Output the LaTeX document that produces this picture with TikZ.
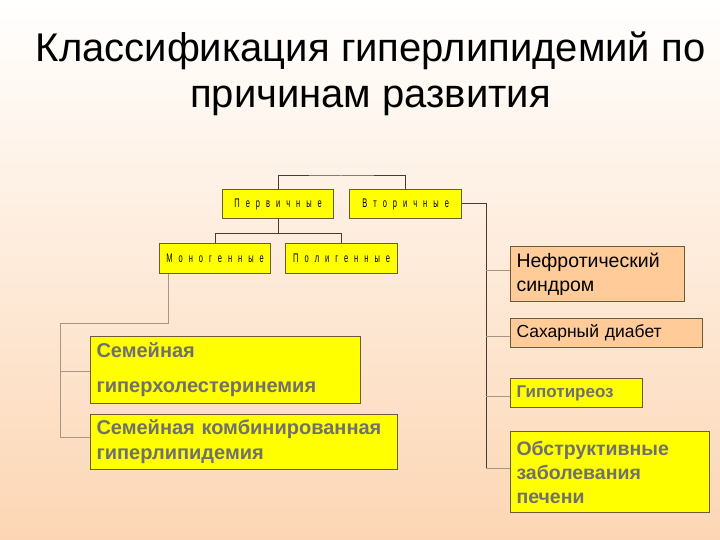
\documentclass[tikz,border=0pt]{standalone}
\usepackage{fontspec}
\setmainfont{Liberation Sans}
\newfontfamily\condfont[FakeStretch=0.6]{Liberation Sans}
\newcommand{\ls}{\hspace{6pt}}
\definecolor{bgtop}{RGB}{255,255,255}
\definecolor{bgbot}{RGB}{252,214,180}
\definecolor{ylw}{RGB}{255,255,0}
\definecolor{org}{RGB}{255,204,153}
\definecolor{bord}{RGB}{105,92,60}
\definecolor{txtgray}{RGB}{112,112,112}
\definecolor{lndark}{RGB}{70,60,50}
\definecolor{lnlight}{RGB}{165,150,135}
\tikzset{
  box/.style={draw=bord, line width=1pt, inner sep=0pt, anchor=north west},
  smallbox/.style={box, fill=ylw, line width=1.3pt, font=\condfont\fontsize{12.5}{14}\selectfont},
  leftbox/.style={box, align=left, inner xsep=6pt},
  darkln/.style={draw=lndark, line width=1pt},
  lightln/.style={draw=lnlight, line width=1pt},
}
\begin{document}
\begin{tikzpicture}[x=1pt,y=-1pt]
\shade[top color=bgtop, bottom color=bgbot] (0,0) rectangle (720,540);
\useasboundingbox (0,0) rectangle (720,540);
% title
\node[anchor=base, font=\fontsize{40}{48}\selectfont, inner sep=0pt] (t1) at (370.5,62) {Классификация гиперлипидемий по};
\node[anchor=base, font=\fontsize{40}{48}\selectfont, inner sep=0pt] (t2) at (370.5,108) {причинам развития};
% small boxes
\node[smallbox, minimum width=111pt, minimum height=29pt] (perv) at (222,189) {П\ls е\ls р\ls в\ls и\ls ч\ls н\ls ы\ls е};
\node[smallbox, minimum width=112pt, minimum height=29pt] (vtor) at (349,189) {В\ls т\ls о\ls р\ls и\ls ч\ls н\ls ы\ls е};
\node[smallbox, minimum width=111pt, minimum height=30pt] (mono) at (159,243) {М\ls о\ls н\ls о\ls г\ls е\ls н\ls н\ls ы\ls е};
\node[smallbox, minimum width=112pt, minimum height=30pt] (poli) at (285,243) {П\ls о\ls л\ls и\ls г\ls е\ls н\ls н\ls ы\ls е};
% left boxes
\node[leftbox, fill=ylw, minimum width=270pt, minimum height=67pt, text width=258pt, font=\bfseries\fontsize{20}{35}\selectfont, text=txtgray] (fh) at (90,336) {Семейная\\гиперхолестеринемия};
\node[leftbox, fill=ylw, minimum width=307pt, minimum height=55pt, text width=295pt, font=\bfseries\fontsize{20}{25}\selectfont, text=txtgray] (fk) at (90,414) {Семейная комбинированная\\гиперлипидемия};
% right boxes
\node[leftbox, fill=org, minimum width=174pt, minimum height=55pt, text width=162pt, font=\fontsize{19.5}{24}\selectfont] (nef) at (510,246) {Нефротический\\синдром};
\node[leftbox, fill=org, minimum width=192pt, minimum height=29pt, text width=180pt, font=\fontsize{17.5}{20}\selectfont] (sd) at (510,318) {Сахарный диабет};
\node[leftbox, fill=ylw, minimum width=132pt, minimum height=29pt, text width=120pt, font=\bfseries\fontsize{17}{20}\selectfont, text=txtgray] (gt) at (510,378) {Гипотиреоз};
\node[leftbox, fill=ylw, minimum width=199pt, minimum height=81pt, text width=187pt, font=\bfseries\fontsize{19.5}{24}\selectfont, text=txtgray] (ob) at (510,431) {Обструктивные\\заболевания\\печени};
% connectors
\coordinate (top) at (341,176);
\draw[darkln] (perv.north) |- (top) -| (vtor.north);
\draw[darkln] (perv.south) -- ++(0,14) coordinate (pm) -| (mono.north);
\draw[darkln] (pm) -| (poli.north);
\coordinate (vr) at (486,204);
\draw[darkln] (vtor.east |- vr) -- (vr) -- (486,468) coordinate (vb);
\draw[lightln] (486,270) -- (nef.west |- 486,270);
\draw[lightln] (486,336) -- (sd.west |- 486,336);
\draw[lightln] (486,396) -- (gt.west |- 486,396);
\draw[lightln] (vb) -- (ob.west |- vb);
\coordinate (mb) at (168,323);
\draw[lightln] (mono.south -| mb) -- (mb) -- (60,323) -- (60,437) -- (fk.west |- 60,437);
\draw[lightln] (60,371) -- (fh.west |- 60,371);
\end{tikzpicture}
\end{document}
